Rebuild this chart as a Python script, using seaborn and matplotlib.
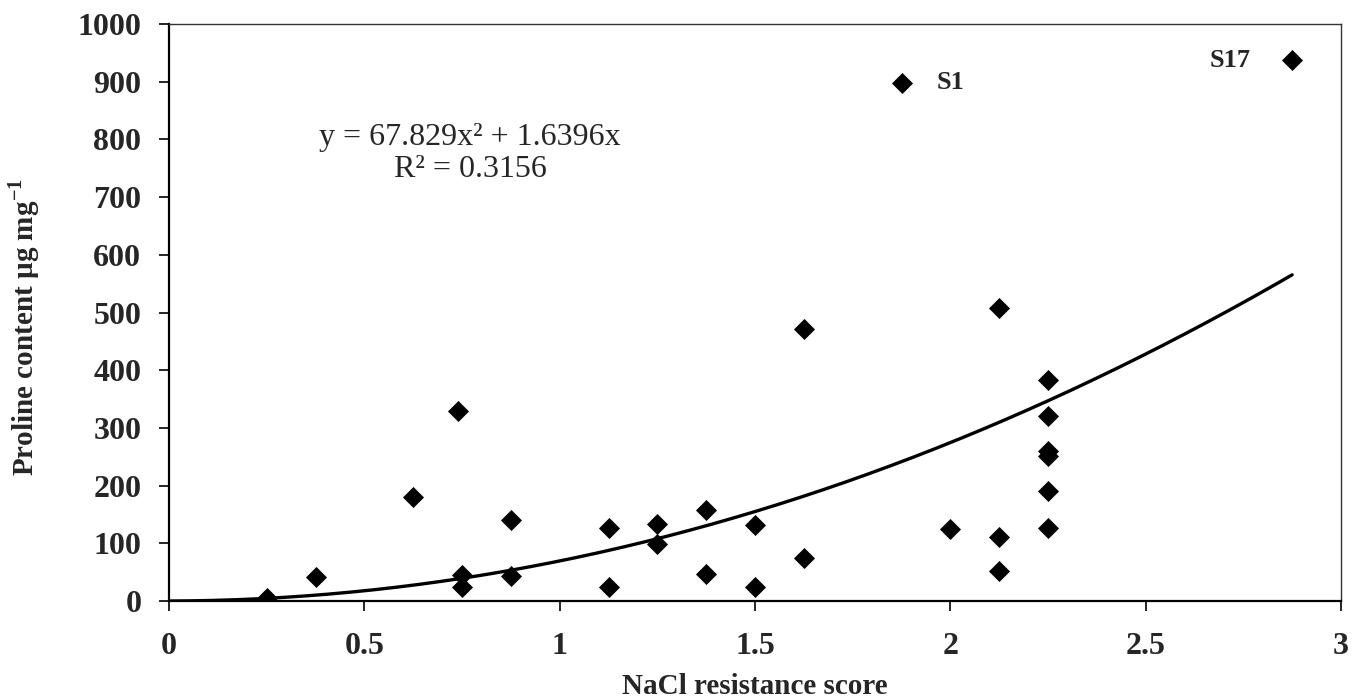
import matplotlib
matplotlib.use("Agg")
import matplotlib.pyplot as plt
import numpy as np
import pandas as pd
import seaborn as sns

# values
nacl_score = [0.25, 0.375, 0.625, 0.74, 0.75, 0.75, 0.875, 0.875, 1.125, 1.125,
              1.25, 1.25, 1.375, 1.375, 1.5, 1.5, 1.625, 1.625, 1.875, 2.0,
              2.125, 2.125, 2.125, 2.25, 2.25, 2.25, 2.25, 2.25, 2.25, 2.875]
proline = [6, 42, 181, 329, 45, 25, 140, 43, 127, 24,
           134, 99, 157, 47, 132, 25, 471, 74, 898, 124,
           507, 111, 52, 383, 320, 260, 252, 191, 127, 937]

# labelled outliers
point_labels = ["S1", "S17"]
label_x = [1.875, 2.875]
label_y = [898, 937]

# polynomial trendline shown on the chart (no intercept)
trend_a = 67.829
trend_b = 1.6396
trend_r2 = 0.3156

x_ticks = [0, 0.5, 1, 1.5, 2, 2.5, 3]
x_tick_labels = ["0", "0.5", "1", "1.5", "2", "2.5", "3"]
y_ticks = list(range(0, 1001, 100))

sns.set_theme(style="white")
plt.rcParams["font.family"] = ["Liberation Serif", "DejaVu Serif"]
plt.rcParams["mathtext.fontset"] = "custom"
plt.rcParams["mathtext.rm"] = "Liberation Serif"
plt.rcParams["mathtext.bf"] = "Liberation Serif:bold"

df = pd.DataFrame({"score": nacl_score, "proline": proline})
trend_x = np.linspace(0, max(nacl_score), 200)
trend = pd.DataFrame({"score": trend_x, "proline": trend_a * trend_x ** 2 + trend_b * trend_x})

fig = plt.figure(figsize=(13.58, 7), dpi=100)
ax = fig.add_axes([0.1245, 0.1414, 0.863, 0.8243])

sns.lineplot(data=trend, x="score", y="proline", ax=ax, color="black", lw=2.4)
sns.scatterplot(data=df, x="score", y="proline", ax=ax, marker="D", s=115,
                color="black", edgecolor="black", linewidth=0, zorder=3)

for lab, lx, ly in zip(point_labels, label_x, label_y):
    if lab == "S1":
        ax.annotate(lab, (lx, ly), xytext=(25, 0), textcoords="offset points",
                    ha="left", va="center", fontsize=19, fontweight="bold")
    else:
        ax.annotate(lab, (lx, ly), xytext=(-30, 0), textcoords="offset points",
                    ha="right", va="center", fontsize=19, fontweight="bold")

ax.text(0.257, 0.804, f"y = {trend_a}x² + {trend_b}x", transform=ax.transAxes,
        ha="center", va="center", fontsize=23)
ax.text(0.257, 0.748, f"R² = {trend_r2}", transform=ax.transAxes,
        ha="center", va="center", fontsize=23)

ax.set_xlim(0, 3)
ax.set_ylim(0, 1000)
ax.set_xticks(x_ticks)
ax.set_xticklabels(x_tick_labels)
ax.set_yticks(y_ticks)

ax.tick_params(axis="both", direction="out", length=7, width=1.2, color="black",
               labelsize=23, bottom=True, left=True)
ax.tick_params(axis="x", pad=15)
ax.tick_params(axis="y", pad=13)
for t in ax.get_xticklabels() + ax.get_yticklabels():
    t.set_fontweight("bold")

ax.set_xlabel("NaCl resistance score", fontsize=21, fontweight="bold", va="baseline")
ax.set_ylabel(r"Proline content µg mg$^{\mathbf{-1}}$", fontsize=21, fontweight="bold")
ax.xaxis.set_label_coords(0.5, -0.161)
ax.yaxis.set_label_coords(-0.108, 0.475)

for side in ["left", "bottom"]:
    ax.spines[side].set_color("black")
    ax.spines[side].set_linewidth(1.6)
for side in ["top", "right"]:
    ax.spines[side].set_color("#333333")
    ax.spines[side].set_linewidth(1.0)

fig.savefig("out.png", dpi=100)
